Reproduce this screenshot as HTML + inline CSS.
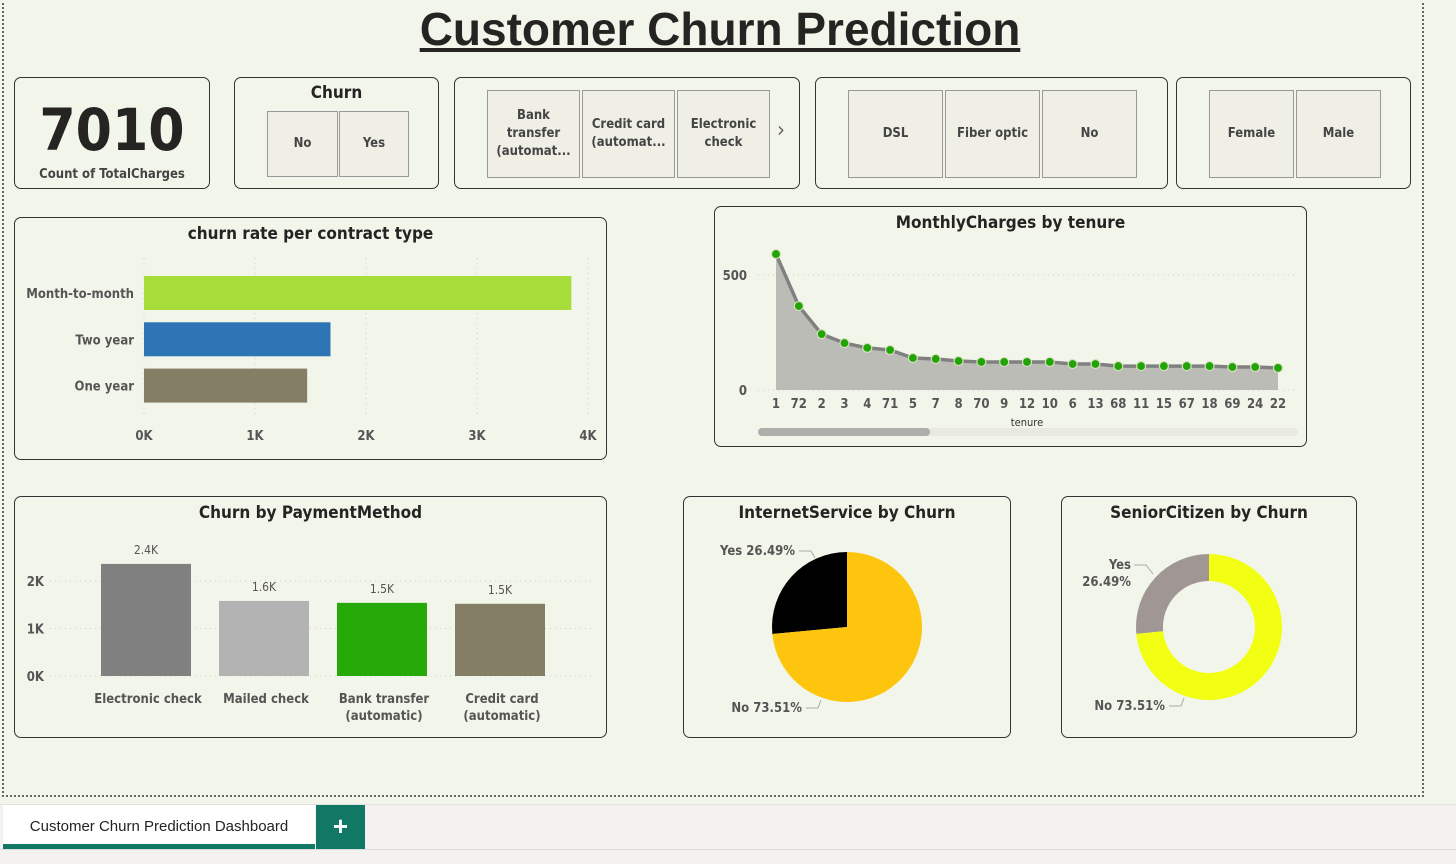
<!DOCTYPE html>
<html><head><meta charset="utf-8">
<style>
*{box-sizing:border-box;margin:0;padding:0}
body{width:1456px;height:864px;background:#f2f6ea;font-family:"DejaVu Sans Condensed","Liberation Sans",sans-serif;position:relative;overflow:hidden;color:#252423}
.card{position:absolute;border:1px solid #333;border-radius:7px;background:#f2f6ea}
.t{position:absolute;left:0;right:0;text-align:center;font-weight:bold;font-size:17px;color:#252423}
.btn{position:absolute;background:#f0efe5;border:1px solid #999;display:flex;align-items:center;justify-content:center;text-align:center;font-weight:bold;font-size:13px;color:#444;line-height:18px}
svg text{font-family:"DejaVu Sans Condensed","Liberation Sans",sans-serif}
</style></head><body>
<div style="position:absolute;left:2px;top:-2px;width:1422px;height:799px;border:2px dotted #666"></div>
<div style="position:absolute;left:0;width:1440px;top:2px;text-align:center;font-family:'Liberation Sans',sans-serif;font-weight:bold;font-size:46px;text-decoration:underline;color:#252423">Customer Churn Prediction</div>

<div class="card" style="left:14px;top:77px;width:196px;height:112px">
 <div style="position:absolute;left:0;right:0;top:18px;text-align:center;font-weight:bold;font-size:58px;color:#252423">7010</div>
 <div style="position:absolute;left:0;right:0;top:89px;text-align:center;font-weight:bold;font-size:13px;color:#444">Count of TotalCharges</div>
</div>

<div class="card" style="left:234px;top:77px;width:205px;height:112px">
 <div class="t" style="top:5px">Churn</div>
 <div class="btn" style="left:32px;top:33px;width:71px;height:66px">No</div>
 <div class="btn" style="left:104px;top:33px;width:70px;height:66px">Yes</div>
</div>

<div class="card" style="left:454px;top:77px;width:346px;height:112px">
 <div class="btn" style="left:32px;top:12px;width:93px;height:88px">Bank<br>transfer<br>(automat...</div>
 <div class="btn" style="left:127px;top:12px;width:93px;height:88px">Credit card<br>(automat...</div>
 <div class="btn" style="left:222px;top:12px;width:93px;height:88px">Electronic<br>check</div>
 <div style="position:absolute;left:322px;top:40px;font-size:22px;color:#666">&#x203A;</div>
</div>

<div class="card" style="left:815px;top:77px;width:353px;height:112px">
 <div class="btn" style="left:32px;top:12px;width:95px;height:88px">DSL</div>
 <div class="btn" style="left:129px;top:12px;width:95px;height:88px">Fiber optic</div>
 <div class="btn" style="left:226px;top:12px;width:95px;height:88px">No</div>
</div>

<div class="card" style="left:1176px;top:77px;width:235px;height:112px">
 <div class="btn" style="left:32px;top:12px;width:85px;height:88px">Female</div>
 <div class="btn" style="left:119px;top:12px;width:85px;height:88px">Male</div>
</div>

<div class="card" style="left:14px;top:217px;width:593px;height:243px"><div class="t" style="top:6px">churn rate per contract type</div></div>
<div class="card" style="left:714px;top:206px;width:593px;height:241px"><div class="t" style="top:6px">MonthlyCharges by tenure</div></div>
<div class="card" style="left:14px;top:496px;width:593px;height:242px"><div class="t" style="top:6px">Churn by PaymentMethod</div></div>
<div class="card" style="left:683px;top:496px;width:328px;height:242px"><div class="t" style="top:6px">InternetService by Churn</div></div>
<div class="card" style="left:1061px;top:496px;width:296px;height:242px"><div class="t" style="top:6px">SeniorCitizen by Churn</div></div>

<svg id="chart" width="1456" height="864" style="position:absolute;left:0;top:0"></svg>

<div style="position:absolute;left:0;top:804px;width:1456px;height:60px;background:#f3f2f1;border-top:1px solid #e0e0e0"></div>
<div style="position:absolute;left:0;top:849px;width:1456px;height:1px;background:#ddd"></div>
<div style="position:absolute;left:3px;top:805px;width:312px;height:44px;background:#fff;border-bottom:5px solid #117865;font-family:'Liberation Sans',sans-serif;font-size:15px;color:#252423;text-align:center;line-height:44px">Customer Churn Prediction Dashboard</div>
<div style="position:absolute;left:316px;top:805px;width:49px;height:44px;background:#117865;color:#fff;font-size:26px;font-weight:bold;text-align:center;line-height:42px;font-family:'Liberation Sans',sans-serif">+</div>

<script>
const NS='http://www.w3.org/2000/svg';
const svg=document.getElementById('chart');
function mk(tag,attrs,parent){const e=document.createElementNS(NS,tag);for(const k in attrs)e.setAttribute(k,attrs[k]);(parent||svg).appendChild(e);return e;}
function txt(x,y,s,attrs){const e=mk('text',Object.assign({x:x,y:y,'font-size':13,'font-weight':'bold',fill:'#555','text-anchor':'middle'},attrs||{}));e.textContent=s;return e;}

// contract chart data
const contractCats=['Month-to-month','Two year','One year'];
const contractVals=[3850,1680,1470];
const contractColors=['#a6dd3b','#2f74b5','#847e64'];
const contractTicks=[0,1000,2000,3000,4000];
const contractTickLabels=['0K','1K','2K','3K','4K'];

// tenure chart data
const tenureCats=['1','72','2','3','4','71','5','7','8','70','9','12','10','6','13','68','11','15','67','18','69','24','22'];
const tenureVals=[591,365,243,204,183,174,139,135,126,122,122,122,122,113,113,104,104,104,104,104,100,100,96];
const tenureTicks=[0,500];

// payment chart data
const payCats=[['Electronic check'],['Mailed check'],['Bank transfer','(automatic)'],['Credit card','(automatic)']];
const payVals=[2360,1580,1540,1520];
const payLabels=['2.4K','1.6K','1.5K','1.5K'];
const payColors=['#808080','#b3b3b3','#27aa07','#847e64'];
const payTicks=[0,1000,2000];
const payTickLabels=['0K','1K','2K'];

// pies
const internetVals=[26.49,73.51];
const internetLabels=['Yes 26.49%','No 73.51%'];
const seniorVals=[26.49,73.51];

// ---- contract bar chart
(function(){
 const x0=144,x1=588,xs=v=>x0+(x1-x0)*v/4000;
 contractTicks.forEach((t,i)=>{
  const l=mk('line',{x1:xs(t),x2:xs(t),y1:258,y2:418,stroke:'#ccc','stroke-dasharray':'1 4'});
  
  const tl=txt(xs(t),440,contractTickLabels[i]);
  
 });
 contractCats.forEach((c,i)=>{
  const y=276+i*46.3;
  const r=mk('rect',{x:x0,y:y,width:xs(contractVals[i])-x0,height:34,fill:contractColors[i]});
  
  const l=txt(134,y+22,c,{'text-anchor':'end'});
  
 });
})();

// ---- tenure area/line chart
(function(){
 const xa=776,xb=1278,y0=390,ys=v=>y0-v*0.23;
 const n=tenureCats.length,xs=i=>xa+(xb-xa)*i/(n-1);
 tenureTicks.forEach(t=>{
  const g=mk('line',{x1:758,x2:1298,y1:ys(t),y2:ys(t),stroke:'#ccc','stroke-dasharray':'1 4'});
  
  const tl=txt(747,ys(t)+5,String(t),{'text-anchor':'end'});
  
 });
 let d='M'+xa+','+y0;
 tenureVals.forEach((v,i)=>{d+=' L'+xs(i)+','+ys(v);});
 d+=' L'+xb+','+y0+' Z';
 const a=mk('path',{d:d,fill:'#bcbcb6'});
 
 const pl=mk('polyline',{points:tenureVals.map((v,i)=>xs(i)+','+ys(v)).join(' '),fill:'none',stroke:'#808080','stroke-width':3.5});
 
 tenureVals.forEach((v,i)=>{
  const c=mk('circle',{cx:xs(i),cy:ys(v),r:4.5,fill:'#22a306',stroke:'#d7e0c0','stroke-width':1.2});
  
  const l=txt(xs(i),408,tenureCats[i]);
  
 });
 const xt=txt(1027,426,'tenure',{'font-weight':'normal','font-size':11,fill:'#333'});
 
 const sb=mk('rect',{x:758,y:428,width:540,height:8,rx:4,fill:'#e8eae2'});
 
 const th=mk('rect',{x:758,y:428,width:172,height:8,rx:4,fill:'#aeaeaa'});
 
})();

// ---- payment bar chart
(function(){
 const y0=676,ys=v=>y0-v*0.0475;
 payTicks.forEach((t,i)=>{
  const g=mk('line',{x1:50,x2:594,y1:ys(t),y2:ys(t),stroke:'#ccc','stroke-dasharray':'1 4'});
  
  const tl=txt(44,ys(t)+5,payTickLabels[i],{'text-anchor':'end'});
  
 });
 payVals.forEach((v,i)=>{
  const x=101+i*118;
  const r=mk('rect',{x:x,y:ys(v),width:90,height:y0-ys(v),fill:payColors[i]});
  
  const vl=txt(x+45,ys(v)-10,payLabels[i],{'font-weight':'normal',fill:'#555','font-size':12});
  
  payCats[i].forEach((s,j)=>{
   const cl=txt(x+47,703+j*17,s);
   
  });
 });
})();

// ---- pies
function arcPath(cx,cy,r,ri,a0,a1){
 const p=(a,rr)=>[cx+rr*Math.sin(a),cy-rr*Math.cos(a)];
 const large=(a1-a0)>Math.PI?1:0;
 const [x0,y0]=p(a0,r),[x1,y1]=p(a1,r);
 if(!ri)return `M${cx},${cy} L${x0},${y0} A${r},${r} 0 ${large} 1 ${x1},${y1} Z`;
 const [x2,y2]=p(a1,ri),[x3,y3]=p(a0,ri);
 return `M${x0},${y0} A${r},${r} 0 ${large} 1 ${x1},${y1} L${x2},${y2} A${ri},${ri} 0 ${large} 0 ${x3},${y3} Z`;
}
function pie(vals,cx,cy,r,ri,colors,name){
 const tot=vals.reduce((a,b)=>a+b,0);
 const a=2*Math.PI*vals[0]/tot;
 const s1=mk('path',{d:arcPath(cx,cy,r,ri,-a,0),fill:colors[0]});
 
 const s2=mk('path',{d:arcPath(cx,cy,r,ri,0,2*Math.PI-a),fill:colors[1]});
 
}
pie(internetVals,847,627,75,0,['#000000','#fec50f'],'internet-pie');
pie(seniorVals,1209,627,73,46,['#a09794','#f3ff12'],'senior-donut');
(function(){
 const l1=txt(795,555,internetLabels[0],{'text-anchor':'end'});
 
 const l2=txt(802,712,internetLabels[1],{'text-anchor':'end'});
 
 mk('polyline',{points:'799,551 811,551 815,558',fill:'none',stroke:'#aaa'});
 mk('polyline',{points:'806,708 818,708 821,700',fill:'none',stroke:'#aaa'});
 const l3=txt(1131,569,'Yes',{'text-anchor':'end'});
 
 const l4=txt(1131,586,'26.49%',{'text-anchor':'end'});
 
 const l5=txt(1165,710,'No 73.51%',{'text-anchor':'end'});
 
 mk('polyline',{points:'1134,565 1146,565 1153,574',fill:'none',stroke:'#aaa'});
 mk('polyline',{points:'1169,706 1181,706 1184,698',fill:'none',stroke:'#aaa'});
})();
</script>
</body></html>
